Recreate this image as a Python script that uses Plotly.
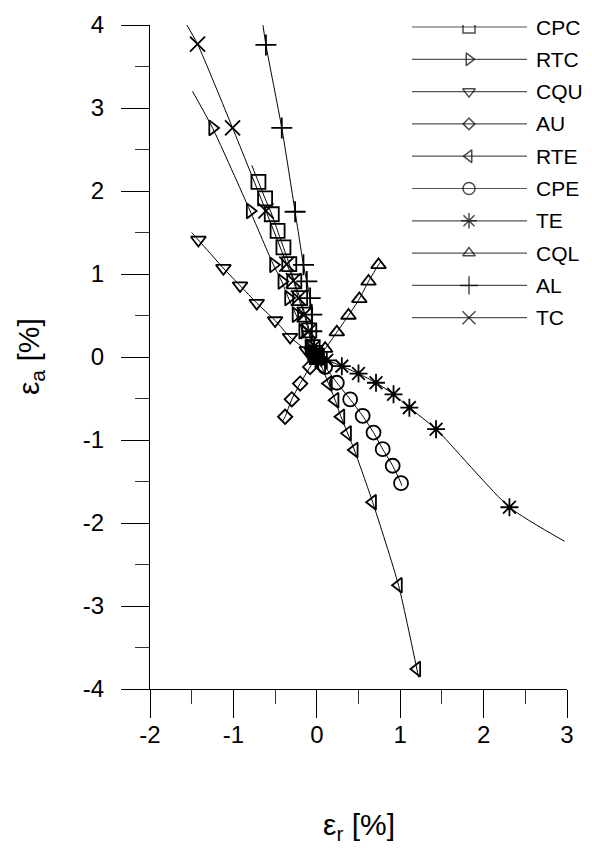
import plotly.graph_objects as go

# ---- data ----
names = ["CPC", "RTC", "CQU", "AU", "RTE", "CPE", "TE", "CQL", "AL", "TC"]
symbols = ["square-open", "triangle-right-open", "triangle-down-open", "diamond-open",
           "triangle-left-open", "circle-open", "asterisk-open", "triangle-up-open",
           "cross-thin-open", "x-thin-open"]
sizes = [14, 13, 13, 11, 13, 14, 15, 13, 15, 15]

CPC_x = [0, -0.02, -0.05, -0.09, -0.14, -0.20, -0.27, -0.33, -0.40, -0.47, -0.54, -0.62, -0.70]
CPC_y = [0, 0.05, 0.12, 0.32, 0.51, 0.71, 0.91, 1.12, 1.32, 1.52, 1.72, 1.91, 2.11]
RTC_x = [0, -0.08, -0.17, -0.25, -0.34, -0.42, -0.52, -0.80, -1.25]
RTC_y = [0, 0.12, 0.31, 0.51, 0.71, 0.91, 1.11, 1.76, 2.76]
CQU_x = [0, -0.12, -0.32, -0.50, -0.72, -0.92, -1.12, -1.42]
CQU_y = [0, 0.08, 0.24, 0.44, 0.65, 0.86, 1.07, 1.41]
AU_x = [0, -0.08, -0.20, -0.30, -0.38]
AU_y = [0, -0.12, -0.32, -0.51, -0.72]
RTE_x = [0, 0.06, 0.14, 0.22, 0.29, 0.37, 0.45, 0.67, 0.98, 1.20]
RTE_y = [0, -0.12, -0.32, -0.52, -0.72, -0.92, -1.12, -1.75, -2.75, -3.76]
CPE_x = [0, 0.10, 0.24, 0.40, 0.55, 0.68, 0.79, 0.91, 1.01]
CPE_y = [0, -0.12, -0.31, -0.51, -0.71, -0.91, -1.11, -1.31, -1.52]
TE_x = [0, 0.12, 0.30, 0.50, 0.71, 0.92, 1.11, 1.43, 2.31]
TE_y = [0, -0.04, -0.11, -0.20, -0.31, -0.45, -0.61, -0.87, -1.81]
CQL_x = [0, 0.10, 0.24, 0.38, 0.51, 0.62, 0.74]
CQL_y = [0, 0.10, 0.30, 0.50, 0.70, 0.91, 1.11]
AL_x = [0, -0.03, -0.06, -0.06, -0.08, -0.12, -0.16, -0.26, -0.42, -0.61]
AL_y = [0, 0.10, 0.31, 0.51, 0.71, 0.91, 1.11, 1.75, 2.76, 3.76]
TC_x = [0, -0.05, -0.10, -0.15, -0.22, -0.28, -0.36, -0.61, -1.01, -1.43]
TC_y = [0, 0.11, 0.31, 0.51, 0.71, 0.92, 1.12, 1.76, 2.76, 3.77]

# end points of the fitted curves (beyond the last measured point)
fit_end_x = [-0.78, -1.49, -1.50, -0.41, 1.22, 1.02, 2.97, 0.77, -0.66, -1.57]
fit_end_y = [2.31, 3.20, 1.50, -0.77, -3.86, -1.55, -2.22, 1.15, 4.10, 4.02]

series_x = [CPC_x, RTC_x, CQU_x, AU_x, RTE_x, CPE_x, TE_x, CQL_x, AL_x, TC_x]
series_y = [CPC_y, RTC_y, CQU_y, AU_y, RTE_y, CPE_y, TE_y, CQL_y, AL_y, TC_y]

x_ticks = [-2, -1, 0, 1, 2, 3]
y_ticks = [-4, -3, -2, -1, 0, 1, 2, 3, 4]

FONT = "Liberation Sans, Arial, sans-serif"

fig = go.Figure()

for i, n in enumerate(names):
    lx = list(series_x[i]) + [fit_end_x[i]]
    ly = list(series_y[i]) + [fit_end_y[i]]
    fig.add_trace(go.Scatter(x=lx, y=ly, mode="lines", line=dict(color="black", width=1, shape="spline", smoothing=0.6),
                             showlegend=False, hoverinfo="skip", cliponaxis=False))
    fig.add_trace(go.Scatter(x=series_x[i], y=series_y[i], mode="markers", name=n, showlegend=False,
                             marker=dict(symbol=symbols[i], size=sizes[i], color="black",
                                         line=dict(width=1.8, color="black"))))

# ---- hand-drawn legend on an overlay axis (0..1 across the plot area) ----
L0, L1, LM, TX = (412 - 150) / 417, (527 - 150) / 417, (469 - 150) / 417, (534 - 150) / 417
for i, n in enumerate(names):
    py = 27 + 32.3 * i
    yy = (689 - py) / 664
    fig.add_trace(go.Scatter(x=[L0, LM, L1], y=[yy, yy, yy], xaxis="x2", yaxis="y2", mode="lines+markers",
                             line=dict(color="#555555", width=1.2), showlegend=False, hoverinfo="skip",
                             marker=dict(symbol=symbols[i], size=[0, sizes[i] - 2, 0], color="black",
                                         line=dict(width=1.5, color="black"))))
    fig.add_annotation(x=TX, y=yy, xref="paper", yref="paper", text=n, showarrow=False,
                       xanchor="left", yanchor="middle", font=dict(size=21, color="black", family=FONT))

fig.add_annotation(x=0.5, y=(689 - 826) / 664, xref="paper", yref="paper", text="ε<sub>r</sub> [%]",
                   showarrow=False, xanchor="center", yanchor="middle",
                   font=dict(size=30, color="black", family=FONT))
fig.add_annotation(x=(30 - 150) / 417, y=0.5, xref="paper", yref="paper", text="ε<sub>a</sub> [%]",
                   showarrow=False, xanchor="center", yanchor="middle", textangle=-90,
                   font=dict(size=30, color="black", family=FONT))

axis_common = dict(showgrid=False, zeroline=False, showline=True, linecolor="black", linewidth=1.3,
                   ticks="outside", ticklen=28, tickwidth=1.3, tickcolor="black",
                   tickfont=dict(size=24, color="black", family=FONT),
                   minor=dict(ticks="outside", ticklen=14, tickwidth=1.3, tickcolor="#333333", dtick=0.5))

fig.update_layout(
    width=592, height=848,
    margin=dict(l=150, r=25, t=25, b=159),
    paper_bgcolor="white", plot_bgcolor="white",
    font=dict(family=FONT, color="black"),
    xaxis=dict(range=[-2, 3], tickvals=x_ticks, ticktext=[str(v) for v in x_ticks],
               ticklabelstandoff=-4, **axis_common),
    yaxis=dict(range=[-4, 4], tickvals=y_ticks, ticktext=[str(v) for v in y_ticks],
               ticklabelstandoff=12, **axis_common),
    xaxis2=dict(range=[0, 1], overlaying="x", visible=False, fixedrange=True),
    yaxis2=dict(range=[0, 1], overlaying="y", visible=False, fixedrange=True),
    showlegend=False,
)

fig.write_html("out.html")
